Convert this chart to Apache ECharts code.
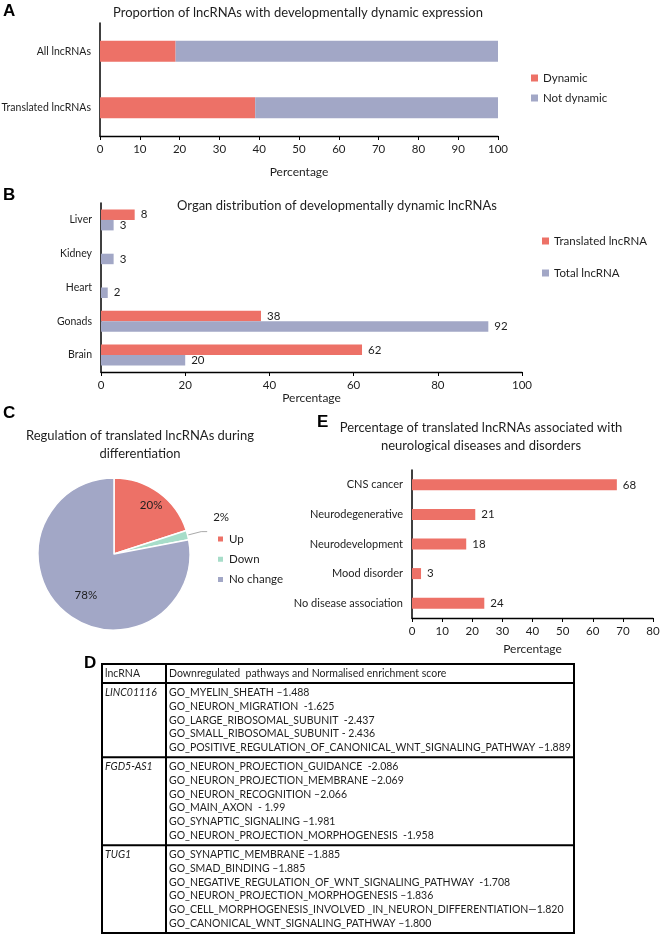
<!DOCTYPE html>
<html><head><meta charset="utf-8">
<script src="https://cdn.jsdelivr.net/npm/echarts@6/dist/echarts.min.js"></script>
<style>html,body{margin:0;padding:0;background:#fff}#c{width:660px;height:935px}</style>
</head><body><div id="c"></div>
<script>
// ---------- DATA ----------
// Panel A
const aCategories = ['Translated lncRNAs', 'All lncRNAs'];
const aDynamic = [39, 19];
const aNotDynamic = [61, 81];
// Panel B
const bCategories = ['Brain', 'Gonads', 'Heart', 'Kidney', 'Liver'];
const bTranslated = [62, 38, null, null, 8];
const bTotal = [20, 92, 1.6, 3, 3];
// Panel C
const cNames = ['Up', 'Down', 'No change'];
const cValues = [20, 2, 78];
// Panel E
const eCategories = ['No disease association', 'Mood disorder', 'Neurodevelopment', 'Neurodegenerative', 'CNS cancer'];
const eValues = [24, 3, 18, 21, 68];
// Panel D
const dHeader = ['lncRNA', 'Downregulated  pathways and Normalised enrichment score'];
const dGenes = ['LINC01116', 'FGD5-AS1', 'TUG1'];
const dLINC01116 = [
  'GO_MYELIN_SHEATH \u20131.488',
  'GO_NEURON_MIGRATION  -1.625',
  'GO_LARGE_RIBOSOMAL_SUBUNIT  -2.437',
  'GO_SMALL_RIBOSOMAL_SUBUNIT - 2.436',
  'GO_POSITIVE_REGULATION_OF_CANONICAL_WNT_SIGNALING_PATHWAY \u20131.889'
];
const dFGD5AS1 = [
  'GO_NEURON_PROJECTION_GUIDANCE  -2.086',
  'GO_NEURON_PROJECTION_MEMBRANE \u20132.069',
  'GO_NEURON_RECOGNITION \u20132.066',
  'GO_MAIN_AXON  - 1.99',
  'GO_SYNAPTIC_SIGNALING \u20131.981',
  'GO_NEURON_PROJECTION_MORPHOGENESIS  -1.958'
];
const dTUG1 = [
  'GO_SYNAPTIC_MEMBRANE \u20131.885',
  'GO_SMAD_BINDING \u20131.885',
  'GO_NEGATIVE_REGULATION_OF_WNT_SIGNALING_PATHWAY  -1.708',
  'GO_NEURON_PROJECTION_MORPHOGENESIS \u20131.836',
  'GO_CELL_MORPHOGENESIS_INVOLVED _IN_NEURON_DIFFERENTIATION\u20141.820',
  'GO_CANONICAL_WNT_SIGNALING_PATHWAY \u20131.800'
];

// ---------- STYLE ----------
const RED = '#ED7167', BLUE = '#A2A7C6', MINT = '#A7DDC9';
const FONT = 'Lato';
const TXT = '#1e1e1e';

function valueAxis(grid, max, interval, nameGap) {
  return {
    type: 'value', gridIndex: grid, min: 0, max: max, interval: interval,
    axisLine: {show: true, onZero: false, lineStyle: {color: '#000', width: 1.3}},
    axisTick: {show: true, length: 4, lineStyle: {color: '#000'}},
    axisLabel: {fontFamily: FONT, fontSize: 11.5, color: TXT, margin: 7},
    splitLine: {show: false},
    name: 'Percentage', nameLocation: 'middle', nameGap: nameGap,
    nameTextStyle: {fontFamily: FONT, fontSize: 12, color: TXT}
  };
}
function catAxis(grid, data, size) {
  return {
    type: 'category', gridIndex: grid, data: data,
    axisLine: {show: true, lineStyle: {color: '#000', width: 1.5}},
    axisTick: {show: false},
    axisLabel: {fontFamily: FONT, fontSize: size, color: TXT, margin: 9}
  };
}
const barLabel = {
  show: true, position: 'right', distance: 6,
  fontFamily: FONT, fontSize: 11.5, color: TXT,
  formatter: p => (p.value == null ? '' : String(Math.round(p.value)))
};

// ---------- GRAPHICS (panel letters, titles, table) ----------
const gfx = [];
function txt(x, y, text, opt) {
  opt = opt || {};
  gfx.push({
    type: 'text', x: x, y: y, silent: true,
    style: {
      text: text, fill: opt.color || TXT,
      fontFamily: opt.family || FONT, fontSize: opt.size || 13,
      fontWeight: opt.weight || 'normal', fontStyle: opt.style || 'normal',
      align: opt.align || 'left', textAlign: opt.align || 'left',
      verticalAlign: 'middle', textVerticalAlign: 'middle'
    }
  });
}
const letterOpt = {family: 'Liberation Sans', size: 17, weight: 'bold', color: '#000'};
txt(3, 11, 'A', letterOpt);
txt(3, 195, 'B', letterOpt);
txt(3, 413, 'C', letterOpt);
txt(317, 422, 'E', letterOpt);
txt(84, 663, 'D', letterOpt);

txt(298, 13, 'Proportion of lncRNAs with developmentally dynamic expression', {align: 'center'});
txt(337, 206, 'Organ distribution of developmentally dynamic lncRNAs', {align: 'center'});
txt(140, 436, 'Regulation of translated lncRNAs during', {align: 'center'});
txt(140, 454, 'differentiation', {align: 'center'});
txt(481, 428, 'Percentage of translated lncRNAs associated with', {align: 'center'});
txt(481, 446, 'neurological diseases and disorders', {align: 'center'});

// Table
const T = {x0: 102, xDiv: 166, x1: 574, top: 664, headH: 19, lineH: 13.65, pad: 3, size: 10.5};
const dRows = [dLINC01116, dFGD5AS1, dTUG1];
const lineYs = [T.top, T.top + T.headH];
let cy = T.top + T.headH;
txt(T.x0 + 3, T.top + T.headH / 2 + 0.5, dHeader[0], {size: T.size});
txt(T.xDiv + 3, T.top + T.headH / 2 + 0.5, dHeader[1], {size: T.size});
dRows.forEach((rows, ri) => {
  const y0 = cy + T.pad;
  txt(T.x0 + 3, y0 + T.lineH / 2, dGenes[ri], {size: T.size, style: 'italic'});
  rows.forEach((s, li) => txt(T.xDiv + 3, y0 + T.lineH * (li + 0.5), s, {size: T.size}));
  cy += rows.length * T.lineH + 2 * T.pad;
  lineYs.push(cy);
});
lineYs.forEach(yy => gfx.push({type: 'line', silent: true,
  shape: {x1: T.x0 - 1, y1: yy, x2: T.x1 + 1, y2: yy}, style: {stroke: '#000', lineWidth: 2}}));
[T.x0, T.xDiv, T.x1].forEach(xx => gfx.push({type: 'line', silent: true,
  shape: {x1: xx, y1: T.top - 1, x2: xx, y2: cy + 1}, style: {stroke: '#000', lineWidth: 2}}));

// ---------- CHART ----------
const chart = echarts.init(document.getElementById('c'), null, {renderer: 'canvas', width: 660, height: 935});
const cColors = [RED, MINT, BLUE];
const pieData = cNames.map((n, i) => {
  const d = {name: n, value: cValues[i], itemStyle: {color: cColors[i]}};
  if (i === 0) d.label = {offset: [13, -16]};
  if (i === 1) d.label = {position: 'outside', distanceToLabelLine: 2};
  if (i === 1) d.labelLine = {show: true, length: 14, length2: 6, lineStyle: {color: '#aaa', width: 1}};
  if (i === 2) d.label = {offset: [-2, 10]};
  return d;
});

chart.setOption({
  animation: false,
  backgroundColor: '#fff',
  textStyle: {fontFamily: FONT},
  graphic: {elements: gfx},
  grid: [
    {left: 100, top: 23, width: 398, height: 113, outerBoundsMode: 'none', containLabel: false},
    {left: 101, top: 203, width: 421, height: 169, outerBoundsMode: 'none', containLabel: false},
    {left: 412, top: 470, width: 241, height: 148, outerBoundsMode: 'none', containLabel: false}
  ],
  legend: [
    {data: ['Dynamic', 'Not dynamic'], orient: 'vertical', left: 526, top: 67, icon: 'rect',
     itemWidth: 7, itemHeight: 7, itemGap: 8, selectedMode: false,
     textStyle: {fontFamily: FONT, fontSize: 11.5, color: TXT}},
    {data: ['Translated lncRNA', 'Total lncRNA'], orient: 'vertical', left: 537, top: 230, icon: 'rect',
     itemWidth: 7, itemHeight: 7, itemGap: 20, selectedMode: false,
     textStyle: {fontFamily: FONT, fontSize: 11.5, color: TXT}},
    {data: cNames, orient: 'vertical', left: 211, top: 528, icon: 'rect',
     itemWidth: 7, itemHeight: 7, itemGap: 8.3, selectedMode: false,
     textStyle: {fontFamily: FONT, fontSize: 11.5, color: TXT}}
  ],
  xAxis: [
    valueAxis(0, 100, 10, 30),
    valueAxis(1, 100, 20, 11),
    valueAxis(2, 80, 10, 25)
  ],
  yAxis: [
    catAxis(0, aCategories, 10.5),
    catAxis(1, bCategories, 10.5),
    catAxis(2, eCategories, 11)
  ],
  series: [
    {name: 'Dynamic', type: 'bar', stack: 'a', xAxisIndex: 0, yAxisIndex: 0, barWidth: 21,
     data: aDynamic, itemStyle: {color: RED}},
    {name: 'Not dynamic', type: 'bar', stack: 'a', xAxisIndex: 0, yAxisIndex: 0, barWidth: 21,
     data: aNotDynamic, itemStyle: {color: BLUE}},
    {name: 'Translated lncRNA', type: 'bar', xAxisIndex: 1, yAxisIndex: 1, barWidth: 10.5, barGap: '0%',
     data: bTranslated, itemStyle: {color: RED}, label: barLabel},
    {name: 'Total lncRNA', type: 'bar', xAxisIndex: 1, yAxisIndex: 1, barWidth: 10.5, barGap: '0%',
     data: bTotal, itemStyle: {color: BLUE}, label: barLabel},
    {name: 'E', type: 'bar', xAxisIndex: 2, yAxisIndex: 2, barWidth: 11,
     data: eValues, itemStyle: {color: RED}, label: barLabel},
    {name: 'Regulation', type: 'pie', center: [114, 554], radius: 76, startAngle: 90, clockwise: true,
     data: pieData, itemStyle: {borderColor: '#fff', borderWidth: 1.5},
     label: {show: true, position: 'inside', formatter: '{c}%', fontFamily: FONT, fontSize: 11.5, color: TXT},
     labelLine: {show: false}, emphasis: {disabled: true},
     labelLayout: p => (p.dataIndex === 1 ? {dy: -14, dx: 4} : {})}
  ]
});
</script>
</body></html>
